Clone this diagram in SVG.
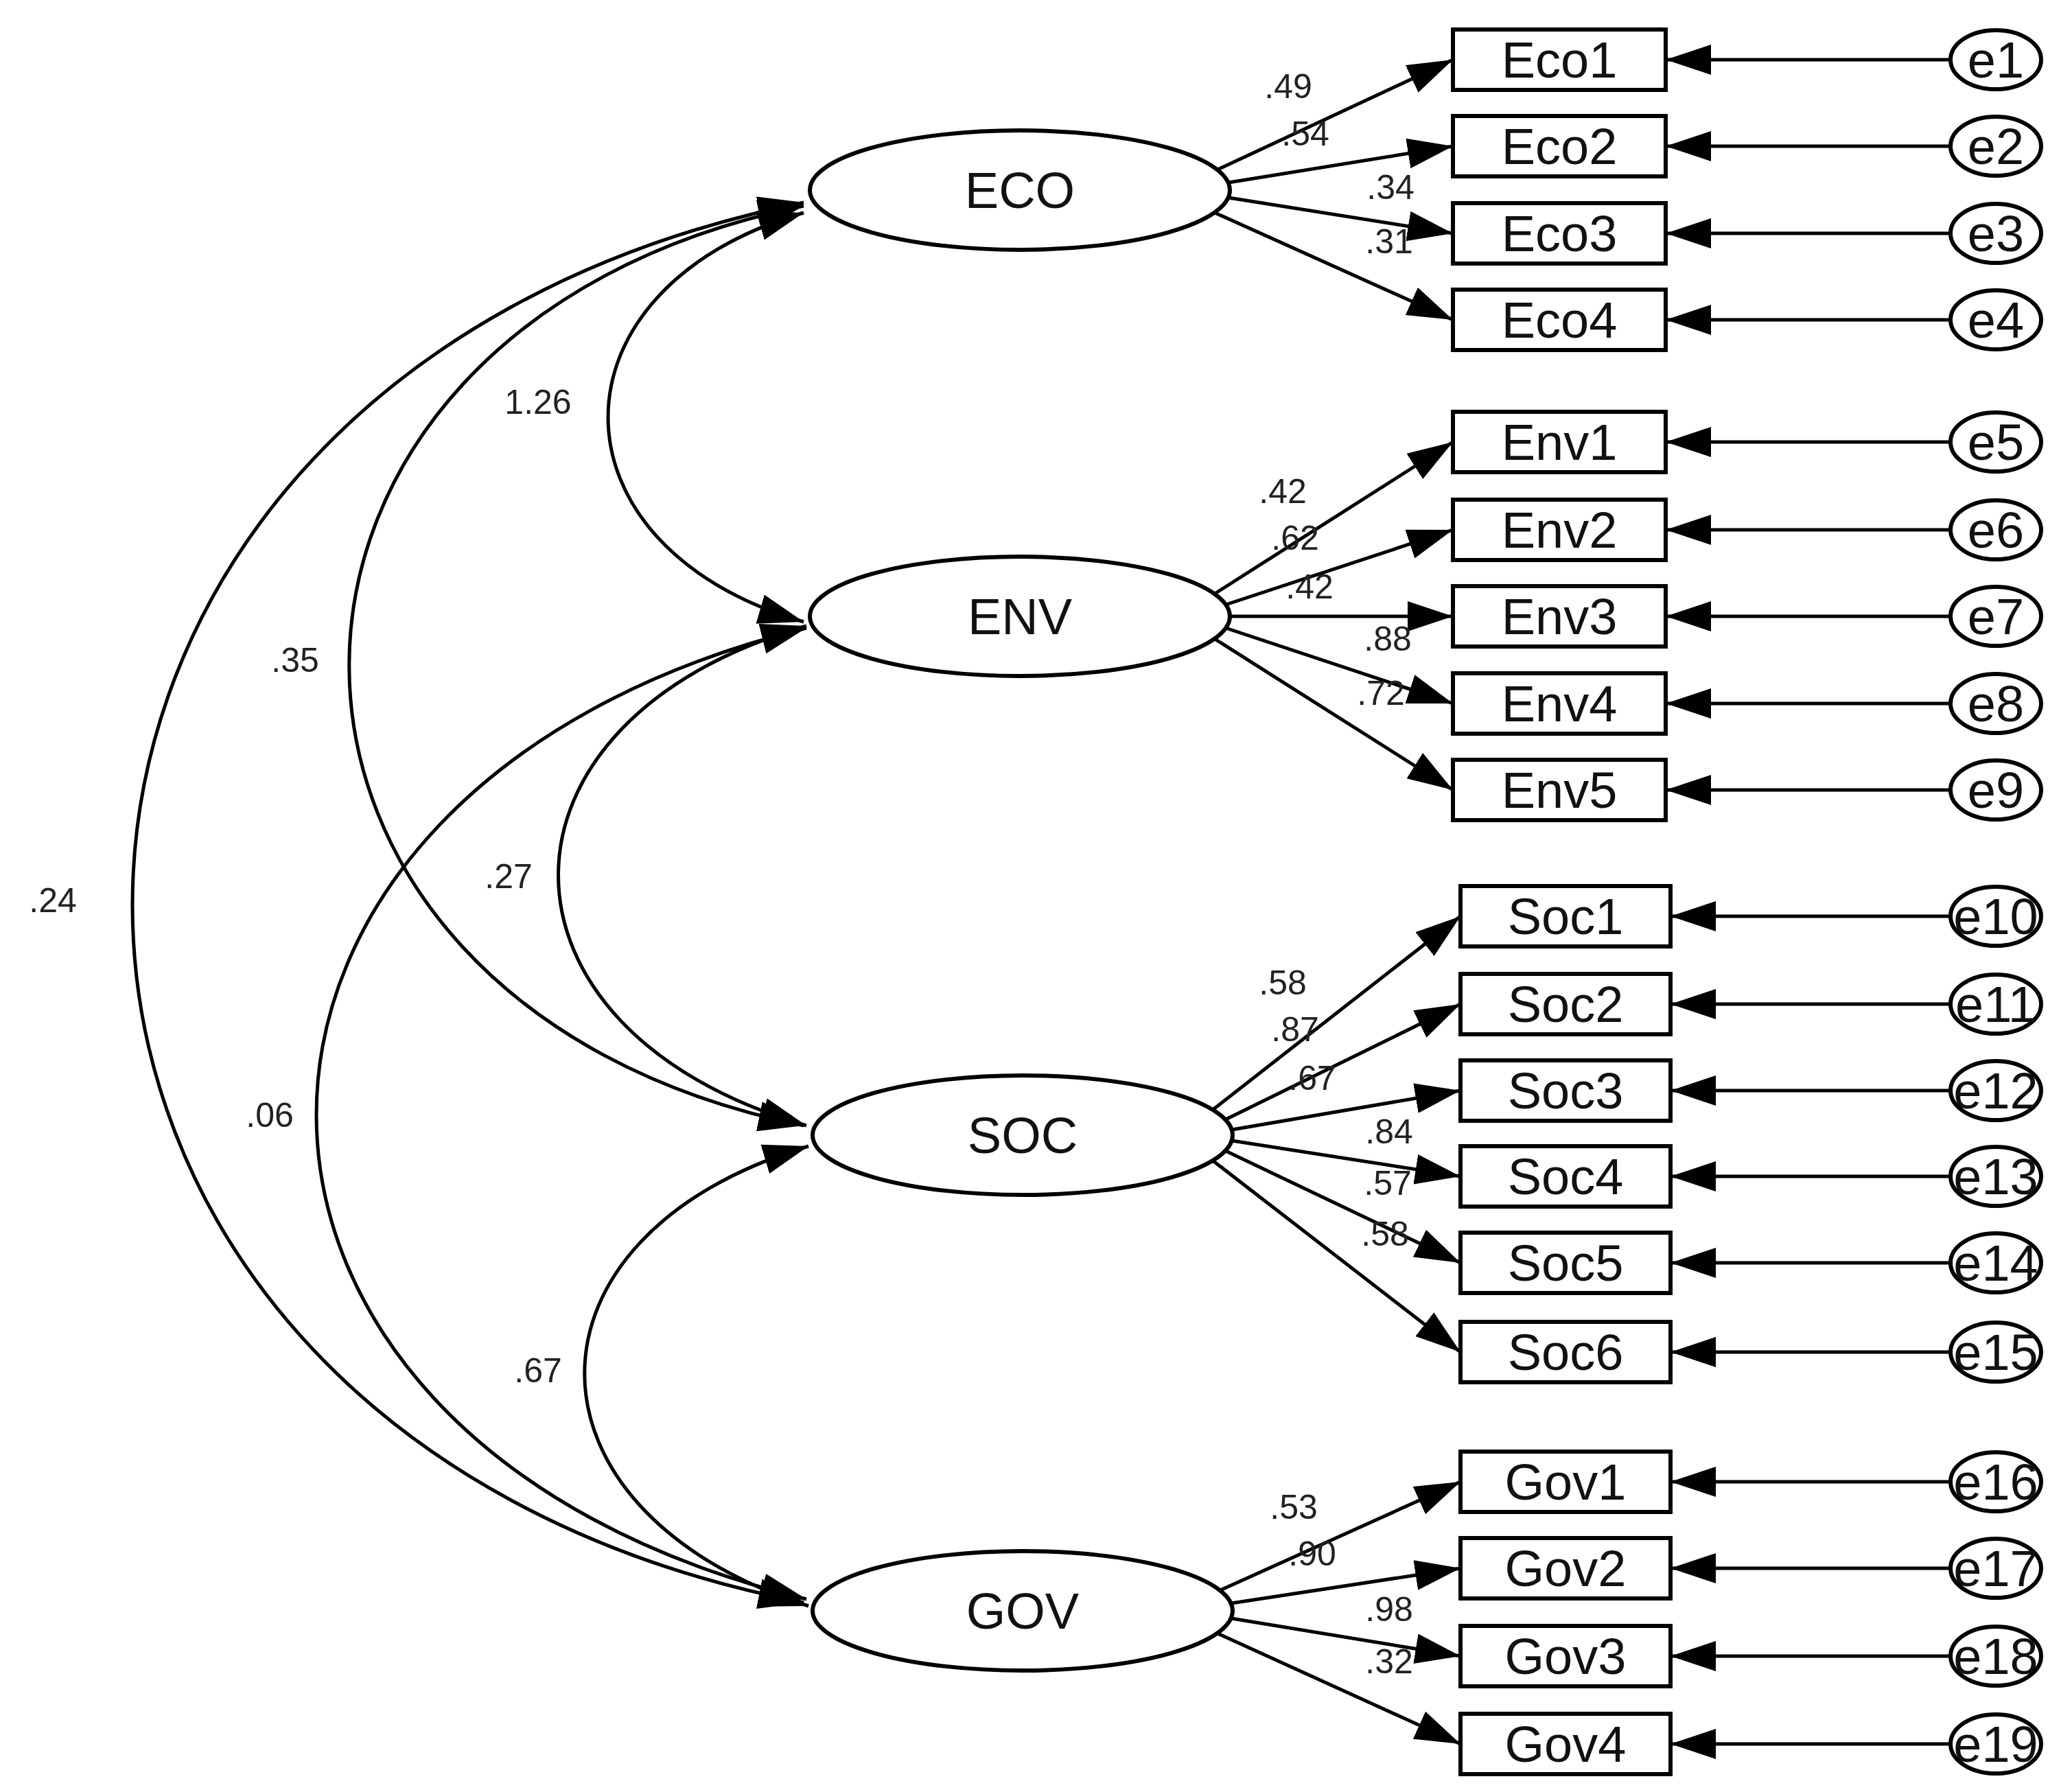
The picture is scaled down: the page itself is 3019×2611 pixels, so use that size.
<svg xmlns="http://www.w3.org/2000/svg" width="3019" height="2611" viewBox="0 0 3019 2611">
<style>
.s{fill:none;stroke:#000;stroke-width:5}
.b{fill:#fff;stroke:#000;stroke-width:6}
.t{font-family:"Liberation Sans",Arial,sans-serif;font-size:74px;text-anchor:middle;fill:#111}
.c{font-family:"Liberation Sans",Arial,sans-serif;font-size:50px;text-anchor:middle;fill:#222}
</style>
<defs>
<marker id="a" markerUnits="userSpaceOnUse" markerWidth="70" markerHeight="50" refX="66" refY="22" orient="auto-start-reverse"><path d="M0,0 L66,22 L0,44 z" fill="#000"/></marker>
</defs>
<g id="connectors" class="s">
<path d="M1171,310 C791,420 791,796 1171,906" marker-start="url(#a)" marker-end="url(#a)"/>
<path d="M1171,300 C288,480 288,1460 1171,1640" marker-start="url(#a)" marker-end="url(#a)"/>
<path d="M1171,295 C-133,560 -133,2080 1171,2335" marker-start="url(#a)" marker-end="url(#a)"/>
<path d="M1175,912 C693,1050 693,1500 1175,1640" marker-start="url(#a)" marker-end="url(#a)"/>
<path d="M1175,915 C223,1150 223,2100 1175,2330" marker-start="url(#a)" marker-end="url(#a)"/>
<path d="M1178,1670 C743,1800 743,2200 1178,2340" marker-start="url(#a)" marker-end="url(#a)"/>
<g marker-end="url(#a)">
<line x1="1774" y1="247" x2="2117" y2="87"/>
<line x1="1790" y1="266" x2="2117" y2="213"/>
<line x1="1790" y1="288" x2="2117" y2="340"/>
<line x1="1770" y1="310" x2="2117" y2="466"/>
<line x1="1770" y1="865" x2="2117" y2="644"/>
<line x1="1786" y1="881" x2="2117" y2="772"/>
<line x1="1792" y1="898" x2="2117" y2="898"/>
<line x1="1786" y1="915" x2="2117" y2="1025"/>
<line x1="1770" y1="931" x2="2117" y2="1151"/>
<line x1="1767" y1="1617" x2="2128" y2="1335"/>
<line x1="1786" y1="1631" x2="2128" y2="1463"/>
<line x1="1795" y1="1646" x2="2128" y2="1589"/>
<line x1="1795" y1="1662" x2="2128" y2="1714"/>
<line x1="1786" y1="1677" x2="2128" y2="1840"/>
<line x1="1767" y1="1691" x2="2128" y2="1970"/>
<line x1="1778" y1="2317" x2="2128" y2="2159"/>
<line x1="1794" y1="2336" x2="2128" y2="2285"/>
<line x1="1794" y1="2358" x2="2128" y2="2413"/>
<line x1="1774" y1="2380" x2="2128" y2="2541"/>
<line x1="2842" y1="87" x2="2427" y2="87"/>
<line x1="2842" y1="213" x2="2427" y2="213"/>
<line x1="2842" y1="340" x2="2427" y2="340"/>
<line x1="2842" y1="466" x2="2427" y2="466"/>
<line x1="2842" y1="644" x2="2427" y2="644"/>
<line x1="2842" y1="772" x2="2427" y2="772"/>
<line x1="2842" y1="898" x2="2427" y2="898"/>
<line x1="2842" y1="1025" x2="2427" y2="1025"/>
<line x1="2842" y1="1151" x2="2427" y2="1151"/>
<line x1="2842" y1="1335" x2="2434" y2="1335"/>
<line x1="2842" y1="1463" x2="2434" y2="1463"/>
<line x1="2842" y1="1589" x2="2434" y2="1589"/>
<line x1="2842" y1="1714" x2="2434" y2="1714"/>
<line x1="2842" y1="1840" x2="2434" y2="1840"/>
<line x1="2842" y1="1970" x2="2434" y2="1970"/>
<line x1="2842" y1="2159" x2="2434" y2="2159"/>
<line x1="2842" y1="2285" x2="2434" y2="2285"/>
<line x1="2842" y1="2413" x2="2434" y2="2413"/>
<line x1="2842" y1="2541" x2="2434" y2="2541"/>
</g>
</g>
<g id="coef" class="c">
<text x="1877" y="143">.49</text><text x="1902" y="212">.54</text><text x="2026" y="290">.34</text><text x="2024" y="369">.31</text>
<text x="1869" y="733">.42</text><text x="1887" y="801">.62</text><text x="1908" y="872">.42</text><text x="2022" y="948">.88</text><text x="2012" y="1027">.72</text>
<text x="1869" y="1449">.58</text><text x="1887" y="1517">.87</text><text x="1912" y="1588">.67</text><text x="2024" y="1666">.84</text><text x="2022" y="1741">.57</text><text x="2018" y="1815">.58</text>
<text x="1885" y="2213">.53</text><text x="1912" y="2281">.90</text><text x="2024" y="2362">.98</text><text x="2024" y="2438">.32</text>
<text x="784" y="603">1.26</text><text x="430" y="979">.35</text><text x="77" y="1329">.24</text><text x="741" y="1294">.27</text><text x="393" y="1642">.06</text><text x="784" y="2014">.67</text>
</g>
<g id="ECO"><ellipse class="b" cx="1486" cy="277" rx="306" ry="87"/><text class="t" x="1486" y="303">ECO</text></g>
<g id="ENV"><ellipse class="b" cx="1486" cy="898" rx="306" ry="87"/><text class="t" x="1486" y="924">ENV</text></g>
<g id="SOC"><ellipse class="b" cx="1490" cy="1654" rx="306" ry="87"/><text class="t" x="1490" y="1680">SOC</text></g>
<g id="GOV"><ellipse class="b" cx="1490" cy="2347" rx="306" ry="87"/><text class="t" x="1490" y="2373">GOV</text></g>
<g id="Eco1"><rect class="b" x="2117" y="43" width="310" height="88"/><text class="t" x="2272" y="113">Eco1</text></g>
<g id="Eco2"><rect class="b" x="2117" y="169" width="310" height="88"/><text class="t" x="2272" y="239">Eco2</text></g>
<g id="Eco3"><rect class="b" x="2117" y="296" width="310" height="88"/><text class="t" x="2272" y="366">Eco3</text></g>
<g id="Eco4"><rect class="b" x="2117" y="422" width="310" height="88"/><text class="t" x="2272" y="492">Eco4</text></g>
<g id="Env1"><rect class="b" x="2117" y="600" width="310" height="88"/><text class="t" x="2272" y="670">Env1</text></g>
<g id="Env2"><rect class="b" x="2117" y="728" width="310" height="88"/><text class="t" x="2272" y="798">Env2</text></g>
<g id="Env3"><rect class="b" x="2117" y="854" width="310" height="88"/><text class="t" x="2272" y="924">Env3</text></g>
<g id="Env4"><rect class="b" x="2117" y="981" width="310" height="88"/><text class="t" x="2272" y="1051">Env4</text></g>
<g id="Env5"><rect class="b" x="2117" y="1107" width="310" height="88"/><text class="t" x="2272" y="1177">Env5</text></g>
<g id="Soc1"><rect class="b" x="2128" y="1291" width="306" height="88"/><text class="t" x="2281" y="1361">Soc1</text></g>
<g id="Soc2"><rect class="b" x="2128" y="1419" width="306" height="88"/><text class="t" x="2281" y="1489">Soc2</text></g>
<g id="Soc3"><rect class="b" x="2128" y="1545" width="306" height="88"/><text class="t" x="2281" y="1615">Soc3</text></g>
<g id="Soc4"><rect class="b" x="2128" y="1670" width="306" height="88"/><text class="t" x="2281" y="1740">Soc4</text></g>
<g id="Soc5"><rect class="b" x="2128" y="1796" width="306" height="88"/><text class="t" x="2281" y="1866">Soc5</text></g>
<g id="Soc6"><rect class="b" x="2128" y="1926" width="306" height="88"/><text class="t" x="2281" y="1996">Soc6</text></g>
<g id="Gov1"><rect class="b" x="2128" y="2115" width="306" height="88"/><text class="t" x="2281" y="2185">Gov1</text></g>
<g id="Gov2"><rect class="b" x="2128" y="2241" width="306" height="88"/><text class="t" x="2281" y="2311">Gov2</text></g>
<g id="Gov3"><rect class="b" x="2128" y="2369" width="306" height="88"/><text class="t" x="2281" y="2439">Gov3</text></g>
<g id="Gov4"><rect class="b" x="2128" y="2497" width="306" height="88"/><text class="t" x="2281" y="2567">Gov4</text></g>
<g id="errors">
<g id="e1"><ellipse class="b" cx="2908" cy="87" rx="66" ry="43"/><text class="t" x="2908" y="113">e1</text></g>
<g id="e2"><ellipse class="b" cx="2908" cy="213" rx="66" ry="43"/><text class="t" x="2908" y="239">e2</text></g>
<g id="e3"><ellipse class="b" cx="2908" cy="340" rx="66" ry="43"/><text class="t" x="2908" y="366">e3</text></g>
<g id="e4"><ellipse class="b" cx="2908" cy="466" rx="66" ry="43"/><text class="t" x="2908" y="492">e4</text></g>
<g id="e5"><ellipse class="b" cx="2908" cy="644" rx="66" ry="43"/><text class="t" x="2908" y="670">e5</text></g>
<g id="e6"><ellipse class="b" cx="2908" cy="772" rx="66" ry="43"/><text class="t" x="2908" y="798">e6</text></g>
<g id="e7"><ellipse class="b" cx="2908" cy="898" rx="66" ry="43"/><text class="t" x="2908" y="924">e7</text></g>
<g id="e8"><ellipse class="b" cx="2908" cy="1025" rx="66" ry="43"/><text class="t" x="2908" y="1051">e8</text></g>
<g id="e9"><ellipse class="b" cx="2908" cy="1151" rx="66" ry="43"/><text class="t" x="2908" y="1177">e9</text></g>
<g id="e10"><ellipse class="b" cx="2908" cy="1335" rx="66" ry="43"/><text class="t" x="2908" y="1361">e10</text></g>
<g id="e11"><ellipse class="b" cx="2908" cy="1463" rx="66" ry="43"/><text class="t" x="2908" y="1489">e11</text></g>
<g id="e12"><ellipse class="b" cx="2908" cy="1589" rx="66" ry="43"/><text class="t" x="2908" y="1615">e12</text></g>
<g id="e13"><ellipse class="b" cx="2908" cy="1714" rx="66" ry="43"/><text class="t" x="2908" y="1740">e13</text></g>
<g id="e14"><ellipse class="b" cx="2908" cy="1840" rx="66" ry="43"/><text class="t" x="2908" y="1866">e14</text></g>
<g id="e15"><ellipse class="b" cx="2908" cy="1970" rx="66" ry="43"/><text class="t" x="2908" y="1996">e15</text></g>
<g id="e16"><ellipse class="b" cx="2908" cy="2159" rx="66" ry="43"/><text class="t" x="2908" y="2185">e16</text></g>
<g id="e17"><ellipse class="b" cx="2908" cy="2285" rx="66" ry="43"/><text class="t" x="2908" y="2311">e17</text></g>
<g id="e18"><ellipse class="b" cx="2908" cy="2413" rx="66" ry="43"/><text class="t" x="2908" y="2439">e18</text></g>
<g id="e19"><ellipse class="b" cx="2908" cy="2541" rx="66" ry="43"/><text class="t" x="2908" y="2567">e19</text></g>
</g>
</svg>
